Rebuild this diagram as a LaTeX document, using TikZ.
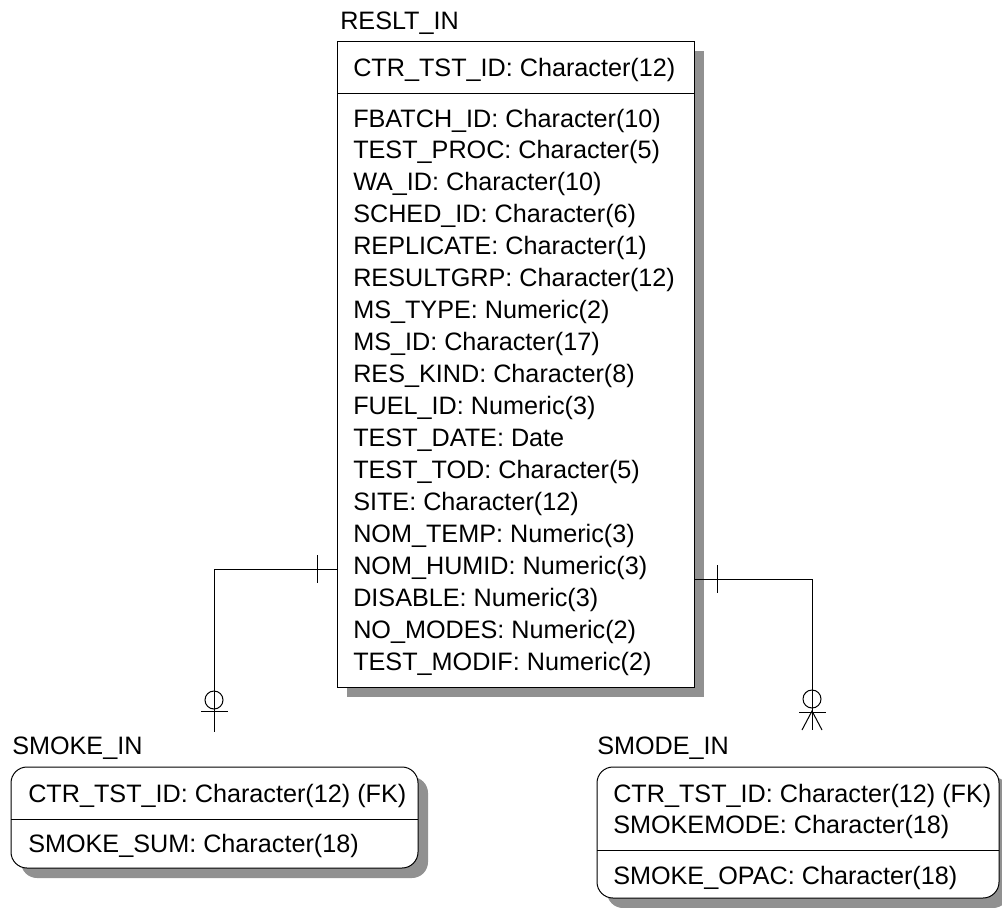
\documentclass[tikz,border=0pt]{standalone}
\usepackage{fontspec}
\setmainfont{Liberation Sans}
\usetikzlibrary{fit,shadows}
\definecolor{shadowgray}{RGB}{145,145,145}
\tikzset{
  entity/.style={draw=black, line width=0.75pt, fill=white, inner sep=0pt,
    drop shadow={shadow xshift=7.5pt, shadow yshift=-7.5pt, fill=shadowgray, opacity=1}},
  rentity/.style={entity, rounded corners=12pt},
  txt/.style={anchor=base west, inner sep=0pt, font=\fontsize{18.9pt}{24pt}\selectfont},
  rel/.style={draw=black, line width=0.75pt},
}
\begin{document}
\begin{tikzpicture}[x=0.75pt,y=-0.75pt]
\useasboundingbox (0,0) rectangle (1002,907);
% ---------- RESLT_IN ----------
\coordinate (r1) at (337,41);
\coordinate (r2) at (694,687);
\node[entity, fit=(r1)(r2)] (reslt) {};
\draw[line width=0.75pt] (337,93) -- (694,93);
\node[txt] (rt) at (340,29) {RESLT\_IN};
\node[txt] (rk) at (353,76) {CTR\_TST\_ID: Character(12)};
\foreach \t [count=\i from 0] in {
  FBATCH\_ID: Character(10),
  TEST\_PROC: Character(5),
  WA\_ID: Character(10),
  SCHED\_ID: Character(6),
  REPLICATE: Character(1),
  RESULTGRP: Character(12),
  MS\_TYPE: Numeric(2),
  MS\_ID: Character(17),
  RES\_KIND: Character(8),
  FUEL\_ID: Numeric(3),
  TEST\_DATE: Date,
  TEST\_TOD: Character(5),
  SITE: Character(12),
  NOM\_TEMP: Numeric(3),
  NOM\_HUMID: Numeric(3),
  DISABLE: Numeric(3),
  NO\_MODES: Numeric(2),
  TEST\_MODIF: Numeric(2)}
  \node[txt] (ra\i) at (353,{127+\i*31.95}) {\t};
% ---------- SMOKE_IN ----------
\coordinate (s1) at (11,767);
\coordinate (s2) at (418,868);
\node[rentity, fit=(s1)(s2)] (smoke) {};
\draw[line width=0.75pt] (11,819) -- (418,819);
\node[txt] (st) at (12,754) {SMOKE\_IN};
\node[txt] (sk) at (28,802) {CTR\_TST\_ID: Character(12) (FK)};
\node[txt] (sa) at (28,852) {SMOKE\_SUM: Character(18)};
% ---------- SMODE_IN ----------
\coordinate (m1) at (597,767);
\coordinate (m2) at (999,898);
\node[rentity, fit=(m1)(m2)] (smode) {};
\draw[line width=0.75pt] (597,850) -- (999,850);
\node[txt] (mt) at (597,754) {SMODE\_IN};
\node[txt] (mk1) at (613,802) {CTR\_TST\_ID: Character(12) (FK)};
\node[txt] (mk2) at (613,833) {SMOKEMODE: Character(18)};
\node[txt] (ma) at (613,884) {SMOKE\_OPAC: Character(18)};
% ---------- relationship RESLT_IN -> SMOKE_IN ----------
\coordinate (la) at (reslt.west |- 0,569);
\coordinate (lb) at (214,569);
\coordinate (lc) at (214,732);
\draw[rel] (la) -- (lb) -- (lc);
\draw[rel] (317,555) -- (317,583);
\draw[rel] (214,700) circle (9);
\draw[rel] (201,711) -- (228,711);
% ---------- relationship RESLT_IN -> SMODE_IN ----------
\coordinate (ra) at (reslt.east |- 0,579);
\coordinate (rb) at (812,579);
\coordinate (rc) at (812,730);
\draw[rel] (ra) -- (rb) -- (rc);
\draw[rel] (717,565) -- (717,593);
\draw[rel] (812,699) circle (9);
\draw[rel] (799,712) -- (826,712);
\draw[rel] (802,730) -- (812,711) -- (822,730);
\end{tikzpicture}
\end{document}
